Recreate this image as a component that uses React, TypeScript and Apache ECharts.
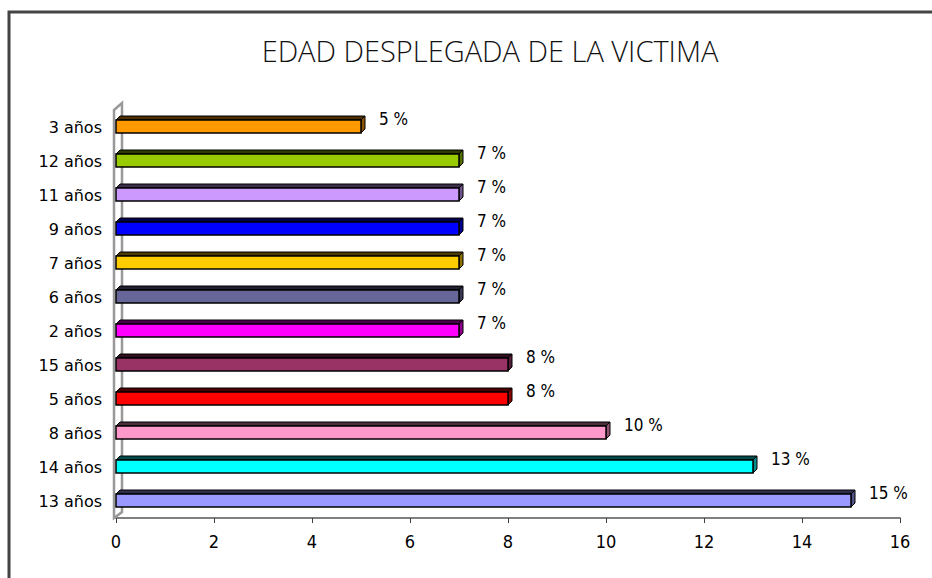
import React, { useEffect, useRef } from "react";
import * as echarts from "echarts";

const categories = ["3 años", "12 años", "11 años", "9 años", "7 años", "6 años", "2 años", "15 años", "5 años", "8 años", "14 años", "13 años"];
const values = [5, 7, 7, 7, 7, 7, 7, 8, 8, 10, 13, 15];
const valueLabels = ["5 %", "7 %", "7 %", "7 %", "7 %", "7 %", "7 %", "8 %", "8 %", "10 %", "13 %", "15 %"];
const xTicks = [0, 2, 4, 6, 8, 10, 12, 14, 16];
const colors = ["#FF9900", "#99CC00", "#CC99FF", "#0000FF", "#FFCC00", "#666699", "#FF00FF", "#993366", "#FF0000", "#FF99CC", "#00FFFF", "#9999FF"];

function shade(hex: string, f: number): string {
  const n = parseInt(hex.slice(1), 16);
  const r = Math.round(((n >> 16) & 255) * f);
  const g = Math.round(((n >> 8) & 255) * f);
  const b = Math.round((n & 255) * f);
  return `rgb(${r},${g},${b})`;
}

const NARROW = "'Liberation Sans Narrow', 'DejaVu Sans Condensed', 'Liberation Sans', sans-serif";

export default function App() {
  const ref = useRef<HTMLDivElement>(null);
  useEffect(() => {
    if (!ref.current) return;
    const chart = echarts.init(ref.current, null, { renderer: "svg" });
    const data = values.map((v, i) => [v, i]);
    chart.setOption({
      animation: false,
      backgroundColor: "#ffffff",
      title: {
        text: "EDAD DESPLEGADA DE LA VICTIMA",
        left: 485,
        top: 31,
        textAlign: "center",
        textStyle: { fontFamily: "'Open Sans', 'DejaVu Sans', sans-serif", fontWeight: 300, fontSize: 29, color: "#111" },
      },
      grid: { left: 116, right: 32, top: 110, bottom: 60, containLabel: false },
      xAxis: {
        type: "value",
        min: 0,
        max: 16,
        interval: 2,
        splitLine: { show: false },
        axisLine: { show: true, lineStyle: { color: "#808080", width: 2 } },
        axisTick: { show: true, length: 5, lineStyle: { color: "#404040" } },
        axisLabel: { color: "#000", fontSize: 18, fontFamily: NARROW, margin: 14, formatter: (v: number) => (xTicks.includes(v) ? String(v) : "") },
      },
      yAxis: {
        type: "category",
        data: categories,
        inverse: true,
        axisLine: { show: false },
        axisTick: { show: false },
        axisLabel: { color: "#000", fontSize: 16, fontFamily: "'DejaVu Sans', sans-serif", margin: 14 },
      },
      graphic: [
        { type: "rect", shape: { x: 9, y: 12, width: 1000, height: 1000 }, style: { fill: "none", stroke: "#444", lineWidth: 3 }, z: 0 },
        { type: "polygon", shape: { points: [[114, 110], [122, 103], [122, 512], [114, 518]] }, style: { fill: "#fff", stroke: "#999", lineWidth: 2.5 }, z: 1 },
      ],
      series: [
        {
          type: "custom",
          z: 5,
          data,
          encode: { x: 0, y: 1 },
          renderItem: (params: any, api: any) => {
            const idx = params.dataIndex;
            const v = api.value(0);
            const cat = api.value(1);
            const p0 = api.coord([0, cat]);
            const p1 = api.coord([v, cat]);
            const c = p0[1];
            const x0 = p0[0];
            const x1 = p1[0];
            const d = 4;
            const yt = c - 7;
            const yb = c + 6;
            const col = colors[idx];
            return {
              type: "group",
              children: [
                { type: "polygon", shape: { points: [[x0, yt], [x0 + d, yt - d], [x1 + d, yt - d], [x1, yt]] }, style: { fill: shade(col, 0.3), stroke: "#000", lineWidth: 1 } },
                { type: "polygon", shape: { points: [[x1, yt], [x1 + d, yt - d], [x1 + d, yb - d], [x1, yb]] }, style: { fill: shade(col, 0.55), stroke: "#000", lineWidth: 1 } },
                { type: "rect", shape: { x: x0, y: yt, width: x1 - x0, height: yb - yt }, style: { fill: col, stroke: "#000", lineWidth: 1.5 } },
                { type: "text", style: { text: valueLabels[idx], x: x1 + 18, y: c - 8, verticalAlign: "middle", align: "left", fill: "#000", fontSize: 17, fontFamily: NARROW } },
              ],
            };
          },
        },
      ],
    });
    return () => chart.dispose();
  }, []);
  return <div ref={ref} style={{ position: "absolute", left: 0, top: 0, width: 932, height: 578 }} />;
}
